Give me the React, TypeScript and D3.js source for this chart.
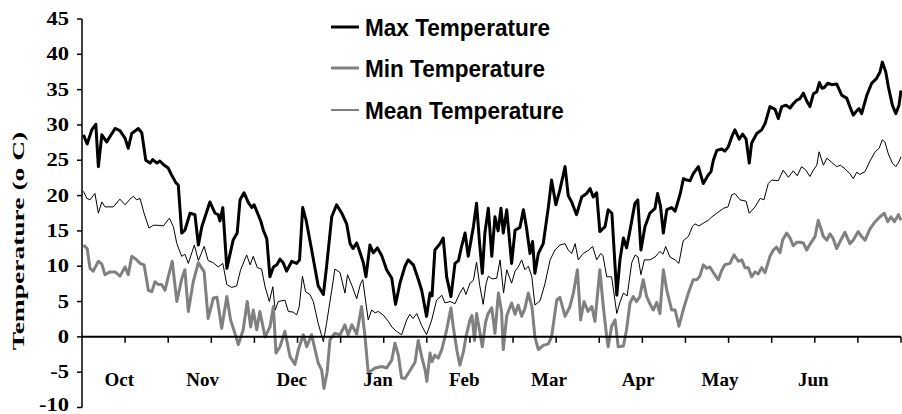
import React from "react";
import * as d3 from "d3";

// [day index, °C]; day 0 = start of October
const maxTemp: [number, number][] = [
  [0.5, 28.6], [1.8, 27.3], [3.4, 29.3], [4.8, 30.1], [5.7, 24.1], [6.9, 28.6], [8.6, 27.6], [11.5, 29.5],
  [13.2, 29.2], [15, 28.1], [16.1, 26.7], [17.3, 28.8], [19.6, 29.5], [20.8, 28.9], [22.2, 25], [23.7, 24.6],
  [24.6, 25.1], [26.1, 24.6], [27.1, 24.9], [28.3, 24.4], [30, 23.9], [31.2, 22.9], [32.7, 21.8], [33.5, 21.5],
  [34.7, 14.7], [35.8, 15.1], [37.6, 17.5], [39.3, 17.3], [40.5, 13], [41.7, 15.6], [44.5, 19.1], [46.3, 17.5],
  [47.4, 17.3], [48, 16.4], [49, 18.3], [50.4, 9.7], [52.6, 13.7], [54, 14.7], [55, 19.4], [56.4, 20.4],
  [57.9, 19], [59.1, 18.3], [59.9, 18.7], [61.3, 17.3], [62.2, 16.4], [63.1, 15.1], [64.3, 13.9], [65.4, 8.5],
  [66.6, 9.9], [67.8, 10.2], [68.9, 11], [70, 10.5], [71.2, 9.3], [73, 10.7], [74.7, 10.4], [75.7, 10.9],
  [76.8, 18.3], [78, 16.5], [79.7, 12.8], [82.2, 7.2], [84, 6], [85.1, 9.9], [86.9, 17], [88.6, 18.7],
  [90.4, 17.5], [92.1, 16], [93.3, 13.2], [94.3, 12.5], [95.6, 13.3], [96.7, 12], [97.9, 10.5], [98.8, 8.5],
  [100.2, 13], [101.4, 11.9], [102.8, 12.6], [104.3, 11.5], [106, 9.5], [107.8, 8.3], [109.1, 4.6], [110.7, 7.7],
  [112.4, 10], [113.5, 10.9], [115.3, 10.2], [116.9, 8.3], [118.2, 6.6], [119.9, 2.9], [121.1, 6.2], [121.8, 5.8],
  [122.8, 12.3], [124.6, 13.2], [125.7, 14], [126.9, 8.5], [128.4, 5.7], [129.8, 10.4], [131, 10.8], [132.1, 12.8],
  [133.3, 14.7], [134.4, 11.4], [136.2, 15.6], [137.3, 18.9], [138.3, 13.5], [139.3, 9], [140.2, 14.7], [141.4, 18.2],
  [142.6, 11.4], [143.7, 17], [144.8, 15], [145.8, 18.2], [146.6, 14.7], [147.8, 18], [149.5, 10.4], [150.7, 15.1],
  [152.4, 15.5], [153.6, 18], [154.7, 15.4], [155.9, 11.8], [156.8, 13.5], [157.6, 9], [158.8, 11.8], [160.5, 13.2],
  [162.3, 18.4], [163.4, 22.2], [164.9, 18.7], [166.3, 20.8], [168.1, 24.1], [169.2, 20], [170.4, 19.1], [172.1, 17.3],
  [173.9, 19.8], [175.6, 20.3], [176.8, 21], [177.9, 19.8], [179.1, 20.4], [180.2, 14.9], [182, 15.6], [183.1, 18],
  [184.4, 17.5], [186.1, 5.9], [187.2, 10.9], [188.4, 14], [189.5, 12.6], [190.7, 15.1], [192.4, 18.9], [193.4, 19.4],
  [194.5, 12.3], [195.9, 15.6], [197.6, 17.5], [199.4, 18.2], [200.3, 20.3], [201.3, 18.5], [202.3, 14.7], [203.5, 18],
  [205.2, 18.3], [206.4, 17.8], [208.2, 20.3], [209.3, 22.4], [210.5, 22.2], [211.6, 22.1], [212.7, 23.1], [214.5, 24.1],
  [216.2, 21.7], [217.9, 22.9], [218.9, 23.4], [219.7, 25], [220.9, 26.4], [222.6, 26.6], [223.7, 26.3], [224.9, 26.9],
  [226.1, 28.3], [227.2, 29.3], [228.7, 28], [229.9, 28.7], [231.1, 28], [232.2, 24.6], [233, 27.4], [234.8, 28.8],
  [236.5, 29.3], [237.7, 30.2], [239.4, 32.6], [241.2, 32.2], [242.3, 30.9], [243.5, 32.6], [245, 32.8], [246.4, 32.4],
  [247.5, 33], [248.7, 33.5], [249.8, 33.7], [251, 34.5], [252.2, 33.4], [253.3, 32.6], [254.5, 34.4], [255.7, 34.7],
  [256.6, 36], [257.5, 35.2], [258.3, 35.3], [259.5, 35.9], [260.9, 35.7], [262.6, 35.8], [264.4, 34.2], [266.1, 33.8],
  [267.2, 32.6], [268.4, 31.4], [269.6, 32], [270.4, 32.3], [271.3, 31.6], [273.1, 34.2], [274.8, 35.9], [276.5, 36.6],
  [277.7, 37.5], [278.5, 38.9], [279.7, 37.5], [280.6, 35.4], [282, 32.8], [283.2, 31.6], [284.3, 32.8], [285, 34.9],
];

const minTemp: [number, number][] = [
  [0.5, 13], [1.8, 12.5], [2.8, 9.7], [3.9, 9.3], [5.7, 10.7], [6.9, 10.3], [8, 8.8], [9.7, 9.2],
  [11.5, 9.2], [13.2, 8.6], [15, 9.9], [16.1, 8.8], [17.3, 11.4], [18.8, 11], [20.2, 10.4], [21.6, 10.2],
  [23.1, 6.6], [24.3, 6.4], [25.4, 7.8], [26.6, 7.4], [27.7, 7.4], [28.9, 6.6], [30, 8.5], [31.4, 10.7],
  [33, 5], [34.7, 8.2], [35.8, 9.5], [37, 3.6], [38.7, 7.8], [40.5, 10.5], [42.5, 9.2], [43.9, 2.6],
  [45.7, 5.5], [47, 5.6], [48.6, 1.2], [50.4, 5.7], [51.7, 2.4], [53.2, 0.5], [54.4, -1.1], [56.1, 1],
  [57.5, 5], [58.7, 1.4], [59.6, 3.8], [60.8, 1], [61.9, 3.6], [63.7, 0], [65.4, 1.4], [66.6, 4.3],
  [67.5, -2.3], [68.9, -1.4], [70.6, 0.8], [72.4, -2.8], [74.1, -3.9], [75.3, -1.8], [77, 0.3], [78.2, -1.4],
  [79.9, 0.3], [81.1, -1.8], [82.2, -3.7], [83.4, -4.7], [84.2, -7.3], [85.3, -5], [86.3, -0.4], [88, 0.5],
  [89.8, 0.3], [91.5, 1.7], [92.6, 0.3], [93.9, 1.7], [95.6, 0.4], [97.3, 4.3], [98.5, 0], [99.6, -5.1],
  [102, -4.4], [104.3, -4.2], [106, -4.4], [107.8, -3.3], [108.9, -0.9], [110.1, -2.6], [111.2, -5.8], [112.4, -5.9],
  [114.1, -4.8], [115.9, -3.6], [117, -0.5], [118.2, -2.8], [119.4, -4.7], [120, -6.3], [121.1, -2.3], [121.8, -3.5],
  [122.8, -2.6], [124, -3], [125.2, -1.8], [126.9, 1], [128.4, 4.1], [129.2, 1.4], [130.5, -2], [131.5, -4],
  [132.8, -2], [133.6, 0], [135, 2.4], [135.7, 3], [136.6, -0.5], [137.3, 3.3], [138.1, 1.5], [139.3, -1.4],
  [140.4, 2], [141.3, 3.3], [142.6, 4.1], [143.7, 0.5], [144.9, 6.2], [146, 3.6], [146.6, -1.8], [147.8, 3],
  [149.5, 4.8], [150.7, 3.2], [151.8, 4.5], [153, 2.9], [154.1, 4], [155.3, 6.2], [156.6, 4.2], [157.6, 0],
  [158.8, -1.8], [160.5, -1.2], [162.3, -1], [163.4, 0], [165.2, 5.2], [166.3, 5.6], [168.1, 2.9], [169.8, 4.3],
  [171, 6.2], [172.4, 9.5], [173.5, 2.4], [174.7, 5], [176.1, 3.6], [177.4, 4.3], [178.5, 2.2], [180.2, 9.5],
  [181.4, 4.3], [182.6, 0], [183.1, -1.4], [184.3, 1.5], [185.5, 2.4], [186.6, -1.4], [188.4, -1.3], [189.5, 1],
  [190.7, 4.8], [191.8, 5.7], [193, 5], [194.1, 5.7], [195.3, 8.1], [196.5, 5.7], [197.6, 4.7], [198.8, 3.8],
  [200, 4.9], [201.1, 3.3], [202.3, 9.5], [203.5, 6.6], [205.2, 3.8], [206.4, 3.8], [207.7, 1.5], [209.2, 3.8],
  [211, 6.2], [212.7, 8.1], [214, 8.1], [215, 8.6], [216.2, 10.2], [217.4, 9.7], [218.5, 9.9], [219.7, 9.1],
  [221.4, 8.1], [222.6, 9.4], [223.7, 10.2], [225.5, 10.4], [226.9, 11.6], [228.4, 10.7], [229.6, 10.9], [230.7, 9.8],
  [231.9, 9.8], [233, 8.5], [234.2, 9.2], [235.3, 8.9], [236.5, 9.8], [237.7, 9.1], [239.4, 11.4], [240.6, 12.3],
  [241.7, 12.7], [242.9, 11.9], [243.8, 13.7], [245.2, 14.7], [246.4, 14], [247.5, 12.9], [248.7, 13.4], [249.8, 13.4],
  [251, 13.3], [252.2, 12.3], [253.3, 13.1], [255.1, 14.2], [256.2, 16.5], [258, 14.2], [259.2, 13.7], [260.3, 14.6],
  [261.4, 13.9], [262.6, 12.5], [263.8, 13.5], [265.5, 14.8], [267.2, 13.2], [268.4, 13.7], [270.1, 14.9], [271.3, 14.2],
  [272.5, 13.7], [274.2, 15.3], [276, 16.3], [277.7, 17], [279.2, 17.5], [280.4, 16.3], [281.5, 17], [282.7, 16.3],
  [284.1, 17.3], [285, 16.5],
];

const meanTemp: [number, number][] = [
  [0.5, 20.6], [1.7, 19.6], [2.8, 19.4], [4.5, 20.3], [5.7, 17.5], [6.9, 19.1], [8, 18.4], [10.9, 18.4],
  [13.2, 19.5], [15, 18.7], [16.7, 19.5], [17.9, 19.9], [19, 19.4], [20.2, 19.6], [21.6, 17.5], [23.3, 15.4],
  [24.8, 15.8], [26.4, 15.8], [28.3, 15.7], [30.4, 16.8], [31.8, 15.6], [33, 13.2], [34.7, 11.4], [35.8, 11.7],
  [37, 10.4], [39.1, 13], [40.5, 10.8], [42.5, 12.8], [43.9, 10.8], [45.7, 10.5], [47.4, 9.9], [49, 10.4],
  [50.4, 7.4], [52.1, 7], [53.8, 7.2], [55.2, 9.5], [57.3, 11.6], [58.5, 10.2], [59.6, 11.4], [61, 9.8],
  [62.5, 9.6], [63.7, 7.1], [65.2, 5], [66.4, 7.1], [67.2, 3.8], [68.3, 5], [70.6, 5.2], [71.8, 3.6],
  [73.5, 3.5], [74.7, 3.1], [75.6, 4.3], [76.7, 8.6], [77.8, 6.4], [79.3, 6], [80.5, 5], [82.2, 1.9],
  [84, -0.7], [85.1, 1.9], [86.9, 6.6], [88, 9.6], [89.8, 9.1], [91.5, 6.2], [92.4, 8.8], [93.9, 7.3],
  [95.6, 5.4], [96.9, 7.5], [97.7, 8.1], [98.8, 4.8], [99.6, 2.4], [100.8, 3.8], [102, 3.4], [103.1, 3.6],
  [104.8, 3.1], [106.6, 2.2], [107.8, 1.4], [109.4, 0.8], [111.2, 0.3], [113, 2.4], [114.1, 3.2], [115.2, 2.6],
  [116.5, 3.3], [118.2, 1.6], [119.9, 0.3], [121.7, 2.4], [123.4, 5.2], [125.2, 5.9], [126.3, 4.8], [128.1, 5],
  [129.8, 4.7], [131.5, 6.2], [132.7, 7], [133.6, 6], [135, 7.6], [136.2, 8], [137.3, 10.6], [138.4, 7.3],
  [139.6, 4.6], [140.6, 7.5], [141.4, 8.6], [142.7, 8.2], [144.3, 8.3], [145.5, 10.9], [146.7, 6.2], [147.8, 9.5],
  [149.5, 7.6], [150.7, 9.3], [151.8, 9.9], [153, 10.9], [154.1, 9.5], [155.3, 10], [156.5, 8.6], [157.6, 4.5],
  [159.4, 5.1], [161.1, 7.5], [162.9, 10.9], [164.6, 12.3], [166.3, 13], [168.1, 13.2], [169.2, 12.3], [170.4, 11.8],
  [171.6, 13.2], [172.7, 10.9], [174.4, 11.8], [176.1, 12.2], [177.7, 12.8], [179.1, 10.9], [180.5, 11.8], [181.3, 11.5],
  [182.6, 8.5], [184.3, 8.5], [186.1, 3.3], [187.2, 4.9], [188.4, 6.2], [189.7, 5.8], [191.3, 10.5], [192.5, 11.6],
  [193.5, 11.3], [194.5, 8.8], [195.7, 10.9], [197.6, 10.9], [199.4, 11.3], [201.1, 12.1], [202.2, 11.7], [203.1, 12.8],
  [204.6, 11.3], [206.4, 10.9], [207.7, 10.4], [209.2, 13.6], [211, 14.2], [212.4, 15.6], [213.3, 16], [214.7, 15.7],
  [216.2, 16.1], [217.9, 16.5], [219.2, 17], [220.9, 17.5], [223.2, 18.2], [224.8, 18.4], [226.1, 20.1], [227.2, 20.3],
  [229, 19.4], [231.1, 19.2], [232.2, 17.5], [234.2, 18.4], [236, 19.6], [237.3, 19.4], [238.8, 21.7], [240, 22.2],
  [242.3, 22.1], [244, 23.6], [245.8, 22.6], [247.5, 23.5], [248.9, 22.8], [250.4, 24.1], [251.9, 23.6], [253.3, 22.7],
  [254.5, 23.6], [255.7, 24.3], [256.5, 26.2], [258, 24.3], [259.2, 25.3], [260.9, 24.7], [262.6, 24.1], [263.9, 24.3],
  [265.5, 23.8], [267.2, 23.1], [268.4, 22.4], [269.6, 23.3], [270.7, 23], [272.5, 23.4], [274.2, 24.9], [276, 26.2],
  [277.4, 26.7], [278.5, 27.9], [279.4, 27.6], [280.6, 25.9], [282, 24.6], [283.2, 24.1], [284.3, 24.8], [285, 25.5],
];

const yTicks = [-10, -5, 0, 5, 10, 15, 20, 25, 30, 35, 40, 45];
const xTickDays = d3.range(15, 286, 15);
const monthNames = ["Oct", "Nov", "Dec", "Jan", "Feb", "Mar", "Apr", "May", "Jun"];
const monthDays = [13, 42, 73, 103, 133, 162.5, 193.5, 222, 254.5];

const series = [
  { label: "Max Temperature", data: maxTemp, color: "#000", width: 3 },
  { label: "Min Temperature", data: minTemp, color: "#808080", width: 3 },
  { label: "Mean Temperature", data: meanTemp, color: "#000", width: 1 },
];

const W = 902;
const H = 414;

export default function App() {
  const x = d3.scaleLinear().domain([0, 285]).range([82, 901]);
  const y = d3.scaleLinear().domain([-10, 45]).range([407.5, 19]);
  const line = d3
    .line<[number, number]>()
    .x((d) => x(d[0]))
    .y((d) => y(d[1]));

  const serif = "'Liberation Serif', 'Times New Roman', serif";
  const sans = "'Liberation Sans', Arial, sans-serif";

  return (
    <svg
      width={W}
      height={H}
      style={{ position: "absolute", left: 0, top: 0, background: "#fff" }}
    >
      {/* series, mean drawn first so the thick lines sit on top */}
      {series
        .slice()
        .reverse()
        .map((s) => (
          <path
            key={s.label}
            d={line(s.data) || ""}
            fill="none"
            stroke={s.color}
            strokeWidth={s.width}
            strokeLinejoin="round"
          />
        ))}

      {/* y axis */}
      <line x1={82} x2={82} y1={y(45)} y2={y(-10)} stroke="#000" strokeWidth={1.5} />
      {yTicks.map((t) => (
        <g key={t}>
          <line x1={77} x2={82} y1={y(t)} y2={y(t)} stroke="#000" strokeWidth={1.5} />
          <text
            transform={`translate(69,${Math.min(y(t) + 6, 411)}) scale(1.25,1)`}
            textAnchor="end"
            fontFamily={serif}
            fontWeight="bold"
            fontSize={18}
          >
            {t}
          </text>
        </g>
      ))}

      {/* x axis at zero */}
      <line x1={82} x2={901} y1={y(0)} y2={y(0)} stroke="#000" strokeWidth={2} />
      {xTickDays.map((d) => (
        <line key={d} x1={x(d)} x2={x(d)} y1={y(0)} y2={y(0) + 6} stroke="#000" strokeWidth={1.5} />
      ))}
      {monthNames.map((m, i) => (
        <text
          key={m}
          x={x(monthDays[i])}
          y={386}
          textAnchor="middle"
          fontFamily={serif}
          fontWeight="bold"
          fontSize={19}
        >
          {m}
        </text>
      ))}

      {/* y title */}
      <text
        transform="translate(24,241) scale(0.58,1) rotate(-90)"
        textAnchor="middle"
        fontFamily={serif}
        fontWeight="bold"
        fontSize={27.5}
      >
        Temperature (o C)
      </text>

      {/* legend */}
      {series.map((s, i) => {
        const ly = [27, 68, 110][i];
        return (
          <g key={s.label}>
            <line x1={331} x2={359} y1={ly} y2={ly} stroke={s.color} strokeWidth={s.width} />
            <text
              transform={`translate(365,${ly + 9}) scale(0.94,1)`}
              fontFamily={sans}
              fontWeight="bold"
              fontSize={24}
            >
              {s.label}
            </text>
          </g>
        );
      })}
    </svg>
  );
}
